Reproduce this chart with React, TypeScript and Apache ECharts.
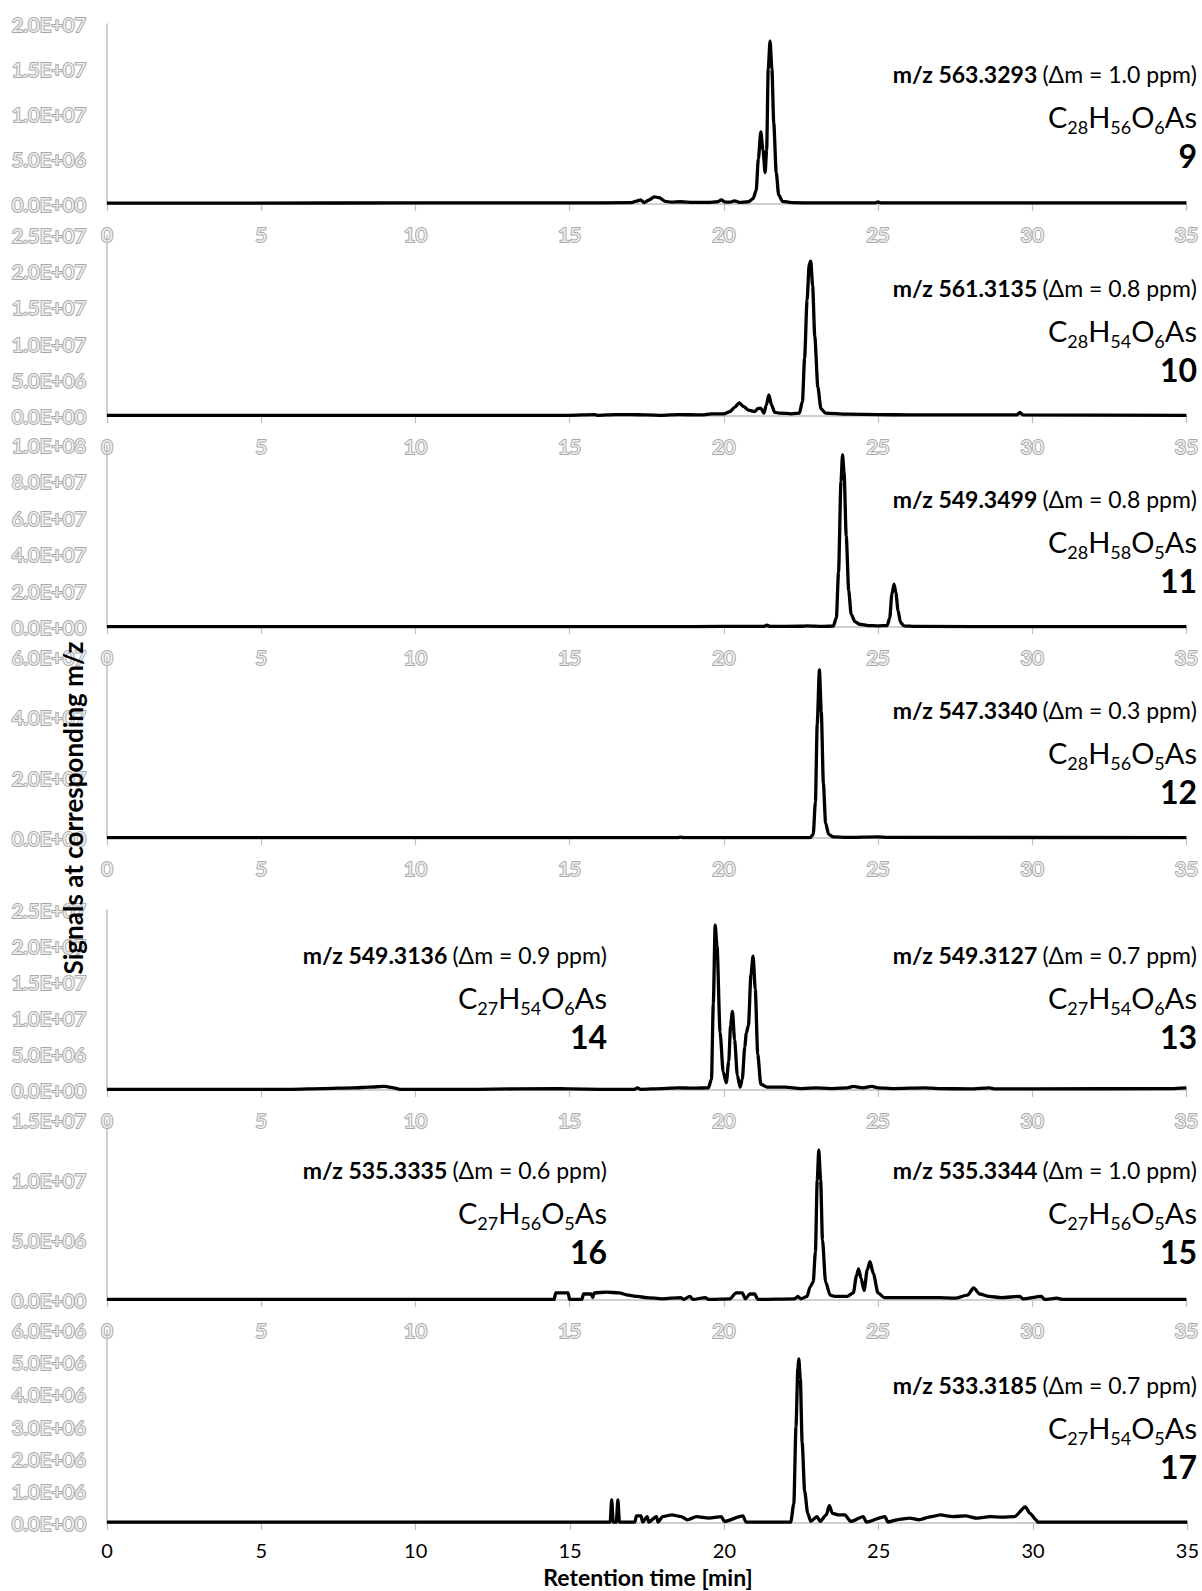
import React, { useEffect, useRef } from 'react';
import * as echarts from 'echarts';

// ---------------- DATA ----------------
const X_TICKS = ['0', '5', '10', '15', '20', '25', '30', '35'];

const Y_TICKS_9 = ['0.0E+00', '5.0E+06', '1.0E+07', '1.5E+07', '2.0E+07'];
const Y_TICKS_10 = ['0.0E+00', '5.0E+06', '1.0E+07', '1.5E+07', '2.0E+07', '2.5E+07'];
const Y_TICKS_11 = ['0.0E+00', '2.0E+07', '4.0E+07', '6.0E+07', '8.0E+07', '1.0E+08'];
const Y_TICKS_12 = ['0.0E+00', '2.0E+07', '4.0E+07', '6.0E+07'];
const Y_TICKS_13 = ['0.0E+00', '5.0E+06', '1.0E+07', '1.5E+07', '2.0E+07', '2.5E+07'];
const Y_TICKS_15 = ['0.0E+00', '5.0E+06', '1.0E+07', '1.5E+07'];
const Y_TICKS_17 = ['0.0E+00', '1.0E+06', '2.0E+06', '3.0E+06', '4.0E+06', '5.0E+06', '6.0E+06'];

const Y_MAX = [2e7, 2.5e7, 1e8, 6e7, 2.5e7, 1.5e7, 6e6];
const Y_INTERVAL = [5e6, 5e6, 2e7, 2e7, 5e6, 5e6, 1e6];

// retention time [min], signal
const TRACE_9: [number, number][] = [
  [0, 1e5], [5, 1e5], [10, 1.2e5], [15, 1.2e5], [17.0, 1.5e5], [17.2, 3.5e5], [17.3, 4.5e5],
  [17.42, 1.5e5], [17.55, 4e5], [17.75, 8e5], [17.9, 7e5], [18.1, 3e5], [18.3, 2e5], [18.6, 2.5e5],
  [19, 1.8e5], [19.5, 1.8e5], [19.8, 2.5e5], [19.92, 4.5e5], [20.05, 2e5], [20.2, 2e5], [20.35, 3.5e5],
  [20.5, 1.8e5], [20.8, 2.5e5], [20.95, 6e5], [21.05, 1.5e6], [21.12, 5e6], [21.2, 8e6], [21.27, 6e6],
  [21.34, 3.5e6], [21.39, 6e6], [21.44, 1.5e7], [21.5, 1.81e7], [21.56, 1.5e7], [21.62, 9e6],
  [21.7, 3.5e6], [21.78, 1e6], [21.9, 3e5], [22.2, 1.5e5], [23, 1.2e5], [24.9, 1.2e5], [25, 2.2e5],
  [25.1, 1.2e5], [27, 1.2e5], [30, 1.2e5], [33, 1.2e5], [35, 1.2e5],
];

const TRACE_10: [number, number][] = [
  [0, 1e5], [5, 1e5], [10, 1e5], [15, 1e5], [15.8, 2e5], [15.9, 1e5], [16.5, 2e5], [17, 2e5],
  [17.5, 1.5e5], [18, 1e5], [18.5, 2e5], [19.3, 1.5e5], [19.6, 3e5], [20, 3e5], [20.2, 6e5],
  [20.35, 1.2e6], [20.5, 1.8e6], [20.65, 1.3e6], [20.8, 8e5], [21.0, 6e5], [21.1, 1e6], [21.2, 1.1e6],
  [21.3, 4e5], [21.38, 1.5e6], [21.46, 2.9e6], [21.55, 1.5e6], [21.65, 5e5], [21.8, 4e5], [22.2, 3e5],
  [22.45, 4e5], [22.55, 2e6], [22.62, 8e6], [22.7, 1.6e7], [22.77, 2.1e7], [22.82, 2.14e7],
  [22.88, 1.8e7], [22.95, 1.1e7], [23.05, 4e6], [23.15, 1e6], [23.3, 4e5], [24, 2.5e5], [25, 2e5],
  [26, 1.5e5], [29.5, 1.5e5], [29.6, 5e5], [29.7, 1.5e5], [35, 1e5],
];

const TRACE_11: [number, number][] = [
  [0, 2e5], [10, 2e5], [18, 2e5], [20, 3e5], [21.3, 3e5], [21.4, 1e6], [21.5, 3e5], [22.5, 4e5],
  [22.7, 6e5], [23.2, 3e5], [23.55, 5e5], [23.65, 5e6], [23.72, 3e7], [23.8, 8e7], [23.85, 9.45e7],
  [23.9, 8.5e7], [23.97, 5e7], [24.05, 2e7], [24.13, 7e6], [24.25, 3e6], [24.4, 1.5e6], [24.7, 8e5],
  [25, 6e5], [25.3, 8e5], [25.38, 5e6], [25.45, 1.8e7], [25.52, 2.36e7], [25.58, 1.9e7], [25.65, 9e6],
  [25.73, 2.5e6], [25.85, 6e5], [26.2, 3e5], [30, 2e5], [35, 2e5],
];

const TRACE_12: [number, number][] = [
  [0, 1e5], [5, 1e5], [10, 1e5], [15, 1e5], [18.5, 1e5], [18.6, 3e5], [18.7, 1e5], [22.8, 1e5],
  [22.9, 1.2e6], [22.97, 1.2e7], [23.03, 3.8e7], [23.1, 5.57e7], [23.16, 4.2e7], [23.23, 1.8e7],
  [23.3, 5e6], [23.4, 1.2e6], [23.55, 4e5], [24, 2e5], [25, 4e5], [25.3, 2e5], [35, 1e5],
];

const TRACE_13: [number, number][] = [
  [0, 1e5], [6, 1e5], [7, 2e5], [8, 3e5], [8.5, 4e5], [9, 5e5], [9.3, 3e5], [9.5, 1e5], [12, 1e5],
  [14.5, 2e5], [15, 1.5e5], [16, 1e5], [17.1, 1e5], [17.2, 3e5], [17.3, 1e5], [18, 2e5], [18.5, 3e5],
  [19, 2.5e5], [19.5, 3e5], [19.6, 1.5e6], [19.66, 1.2e7], [19.72, 2.29e7], [19.78, 2e7], [19.88, 8e6],
  [19.98, 2.5e6], [20.08, 1e6], [20.16, 4e6], [20.22, 9e6], [20.28, 1.09e7], [20.35, 7e6],
  [20.44, 2e6], [20.53, 4e5], [20.6, 1.5e6], [20.68, 6e6], [20.73, 7.9e6], [20.8, 9e6], [20.88, 1.6e7],
  [20.95, 1.86e7], [21.02, 1.4e7], [21.1, 5e6], [21.2, 8e5], [21.4, 4e5], [22, 4e5], [22.5, 2e5],
  [23, 3e5], [23.5, 2e5], [24, 3e5], [24.2, 5e5], [24.5, 3e5], [24.8, 5e5], [25, 3e5], [25.5, 2e5],
  [26.5, 3e5], [27, 2e5], [28, 1.5e5], [28.6, 3e5], [28.8, 1.5e5], [30, 1.5e5], [34.5, 2e5], [35, 3e5],
];

const TRACE_15: [number, number][] = [
  [0, 5e4], [10, 5e4], [14.5, 5e4], [14.55, 6e5], [14.95, 6e5], [15.0, 5e4], [15.4, 5e4],
  [15.45, 5e5], [15.7, 5e5], [15.75, 2e5], [15.8, 6e5], [16.2, 6.5e5], [16.6, 6e5], [16.9, 4e5],
  [17.2, 3e5], [17.5, 2e5], [18, 1e5], [18.6, 2e5], [18.7, 5e4], [18.9, 3e5], [19.0, 5e4],
  [19.4, 2e5], [19.5, 5e4], [20.2, 1e5], [20.4, 6e5], [20.6, 6e5], [20.7, 1e5], [20.85, 5e5],
  [21, 5e5], [21.1, 5e4], [22.3, 1e5], [22.4, 3e5], [22.5, 1e5], [22.7, 3e5], [22.8, 1.1e6],
  [22.9, 1.5e6], [22.97, 4e6], [23.03, 1e7], [23.08, 1.25e7], [23.14, 1e7], [23.2, 5e6],
  [23.3, 1.5e6], [23.45, 4e5], [23.6, 3e5], [24, 3e5], [24.2, 6e5], [24.3, 2e6], [24.37, 2.6e6],
  [24.45, 1.8e6], [24.55, 8e5], [24.65, 2.5e6], [24.74, 3.2e6], [24.85, 2.2e6], [25, 6e5],
  [25.2, 2e5], [26, 2e5], [27, 2e5], [27.5, 1.5e5], [27.9, 4e5], [28.1, 1e6], [28.3, 5e5],
  [28.6, 3e5], [29, 2e5], [29.6, 3e5], [29.7, 1e5], [30.3, 3e5], [30.4, 5e4], [30.8, 1.5e5],
  [31, 5e4], [32.3, 5e4], [35, 5e4],
];

const TRACE_17: [number, number][] = [
  [0, 3e4], [16.3, 3e4], [16.35, 7.2e5], [16.4, 3e4], [16.5, 3e4], [16.55, 7.2e5], [16.6, 3e4],
  [17.1, 3e4], [17.15, 2.2e5], [17.3, 2.2e5], [17.35, 3e4], [17.5, 2e5], [17.55, 3e4], [17.8, 2e5],
  [17.85, 3e4], [18, 2e5], [18.3, 2.5e5], [18.6, 2e5], [18.8, 1e5], [19.1, 2e5], [19.5, 1.5e5],
  [19.9, 2e5], [20, 5e4], [20.6, 2.2e5], [20.7, 3e4], [22.15, 3e4], [22.25, 6e5], [22.32, 3e6],
  [22.38, 4.8e6], [22.41, 5.1e6], [22.46, 4.5e6], [22.52, 2.5e6], [22.6, 1e6], [22.7, 3e5],
  [22.8, 5e4], [23, 2e5], [23.1, 5e4], [23.3, 2.5e5], [23.4, 5.4e5], [23.5, 3e5], [23.7, 2.5e5],
  [23.9, 2.5e5], [24.1, 5e4], [24.5, 2e5], [24.6, 3e4], [25.2, 2e5], [25.3, 3e4], [25.6, 1e5],
  [26, 1.5e5], [26.3, 1e5], [26.7, 2e5], [27, 2.5e5], [27.4, 2e5], [27.8, 2.2e5], [28.2, 1.5e5],
  [28.6, 2e5], [29, 1.8e5], [29.4, 2e5], [29.75, 5e5], [29.9, 3e5], [30.1, 1e5], [30.15, 3e4],
  [35, 3e4],
];

const TRACES = [TRACE_9, TRACE_10, TRACE_11, TRACE_12, TRACE_13, TRACE_15, TRACE_17];
const Y_TICKS = [Y_TICKS_9, Y_TICKS_10, Y_TICKS_11, Y_TICKS_12, Y_TICKS_13, Y_TICKS_15, Y_TICKS_17];

// annotations
const MZ_LABELS = ['m/z 563.3293', 'm/z 561.3135', 'm/z 549.3499', 'm/z 547.3340', 'm/z 549.3136',
  'm/z 549.3127', 'm/z 535.3335', 'm/z 535.3344', 'm/z 533.3185'];
const PPM_LABELS = ['(Δm = 1.0 ppm)', '(Δm = 0.8 ppm)', '(Δm = 0.8 ppm)', '(Δm = 0.3 ppm)',
  '(Δm = 0.9 ppm)', '(Δm = 0.7 ppm)', '(Δm = 0.6 ppm)', '(Δm = 1.0 ppm)', '(Δm = 0.7 ppm)'];
const FORMULAS: [string, string][][] = [
  [['C', '28'], ['H', '56'], ['O', '6'], ['As', '']],
  [['C', '28'], ['H', '54'], ['O', '6'], ['As', '']],
  [['C', '28'], ['H', '58'], ['O', '5'], ['As', '']],
  [['C', '28'], ['H', '56'], ['O', '5'], ['As', '']],
  [['C', '27'], ['H', '54'], ['O', '6'], ['As', '']],
  [['C', '27'], ['H', '54'], ['O', '6'], ['As', '']],
  [['C', '27'], ['H', '56'], ['O', '5'], ['As', '']],
  [['C', '27'], ['H', '56'], ['O', '5'], ['As', '']],
  [['C', '27'], ['H', '54'], ['O', '5'], ['As', '']],
];
const COMPOUND_IDS = ['9', '10', '11', '12', '14', '13', '16', '15', '17'];
const ANN_PANEL = [0, 1, 2, 3, 4, 4, 5, 5, 6];
const ANN_SIDE = ['R', 'R', 'R', 'R', 'L', 'R', 'L', 'R', 'R'];

const Y_TITLE = 'Signals at corresponding m/z';
const X_TITLE = 'Retention time [min]';

// ---------------- LAYOUT ----------------
const GRID_LEFT = 107;
const GRID_WIDTH = 1082;
const GRID_TOPS = [24, 235, 445, 657, 910, 1120, 1330];
const GRID_HEIGHTS = [180, 181, 182, 181, 180, 180, 193];
const ANN_FIRST_Y = [74, 288, 499, 710, 955, 1170, 1385];
const ANN_RIGHT_X = 1197;
const ANN_LEFT_X = 607;

const FONT = 'Lato';
const GREY_LABEL = { color: '#eeeeee', textBorderColor: '#a9a9a9', textBorderWidth: 2 };

function buildOption() {
  const n = TRACES.length;
  const grid = GRID_TOPS.map((t, i) => ({ left: GRID_LEFT, width: GRID_WIDTH, top: t, height: GRID_HEIGHTS[i] }));
  const xAxis = TRACES.map((_, i) => ({
    type: 'value', gridIndex: i, min: 0, max: 35, interval: 5,
    axisLine: { show: true, onZero: false, lineStyle: { color: '#bfbfbf', width: 1.5 } },
    axisTick: { show: true, length: 7, lineStyle: { color: '#bfbfbf', width: 1.2 } },
    splitLine: { show: false },
    axisLabel: {
      margin: i === n - 1 ? 17 : 20, fontSize: 20, fontFamily: FONT,
      formatter: (v: number) => X_TICKS[Math.round(v / 5)] ?? '',
      ...(i === n - 1 ? { color: '#000000' } : GREY_LABEL),
    },
  }));
  const yAxis = TRACES.map((_, i) => ({
    type: 'value', gridIndex: i, min: 0, max: Y_MAX[i], interval: Y_INTERVAL[i],
    axisLine: { show: true, lineStyle: { color: '#bfbfbf', width: 1.5 } },
    axisTick: { show: false },
    splitLine: { show: false },
    axisLabel: {
      margin: 21, fontSize: 20, fontFamily: FONT, ...GREY_LABEL,
      formatter: (v: number) => Y_TICKS[i][Math.round(v / Y_INTERVAL[i])] ?? '',
    },
  }));
  const series = TRACES.map((d, i) => ({
    type: 'line', xAxisIndex: i, yAxisIndex: i, data: d,
    showSymbol: false, symbol: 'none', smooth: 0.25, smoothMonotone: 'x',
    lineStyle: { color: '#000000', width: 3.3 }, silent: true, z: 3,
  }));

  const graphic: any[] = [];
  MZ_LABELS.forEach((mz, k) => {
    const p = ANN_PANEL[k];
    const x = ANN_SIDE[k] === 'R' ? ANN_RIGHT_X : ANN_LEFT_X;
    const y0 = ANN_FIRST_Y[p];
    graphic.push({
      type: 'text', x, y: y0, z: 10,
      style: {
        text: '{b|' + mz + ' }{r|' + PPM_LABELS[k] + '}',
        align: 'right', verticalAlign: 'middle',
        rich: {
          b: { fontFamily: FONT, fontWeight: 'bold', fontSize: 23, fill: '#000' },
          r: { fontFamily: FONT, fontSize: 23, fill: '#000' },
        },
      },
    });
    const ftext = FORMULAS[k].map(([el, sub]) => '{c|' + el + '}' + (sub ? '{s|' + sub + '}' : '')).join('');
    graphic.push({
      type: 'text', x, y: y0 + 42, z: 10,
      style: {
        text: ftext, align: 'right', verticalAlign: 'middle',
        rich: {
          c: { fontFamily: FONT, fontSize: 29, lineHeight: 30, fill: '#000' },
          s: { fontFamily: FONT, fontSize: 18, lineHeight: 18, padding: [22, 0, 0, 0], fill: '#000' },
        },
      },
    });
    graphic.push({
      type: 'text', x, y: y0 + 81, z: 10,
      style: {
        text: COMPOUND_IDS[k], align: 'right', verticalAlign: 'middle',
        font: 'bold 32px ' + FONT, fill: '#000',
      },
    });
  });
  graphic.push({
    type: 'text', x: 73, y: 808, rotation: Math.PI / 2, z: 10,
    style: { text: Y_TITLE, align: 'center', verticalAlign: 'middle', font: 'bold 26px ' + FONT, fill: '#000' },
  });
  graphic.push({
    type: 'text', x: 648, y: 1577, z: 10,
    style: { text: X_TITLE, align: 'center', verticalAlign: 'middle', font: 'bold 23px ' + FONT, fill: '#000' },
  });

  return {
    animation: false,
    backgroundColor: '#ffffff',
    grid, xAxis, yAxis, series, graphic,
  };
}

export default function App() {
  const ref = useRef<HTMLDivElement>(null);
  useEffect(() => {
    const chart = echarts.init(ref.current as HTMLDivElement, null, { renderer: 'svg' });
    chart.setOption(buildOption() as any);
    return () => chart.dispose();
  }, []);
  return (
    <div
      ref={ref}
      style={{ position: 'absolute', left: 0, top: 0, width: 1202, height: 1591, background: '#ffffff' }}
    />
  );
}
